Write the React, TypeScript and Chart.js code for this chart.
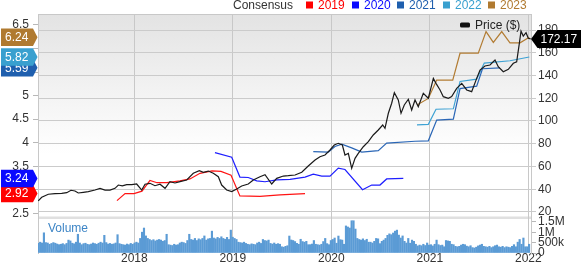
import { useEffect, useRef } from 'react';
import { Chart, registerables } from 'chart.js';

Chart.register(...registerables);

const FONT = '"Liberation Sans", Arial, sans-serif';

// ---- axes / ticks ----
const yearTicks = [2018, 2019, 2020, 2021, 2022];
const epsTicks = [2.5, 3, 3.5, 4, 4.5, 5, 5.5, 6, 6.5];
const hiddenEpsLabels = [3, 5.5, 6];
const priceTicks = [20, 40, 60, 80, 100, 120, 140, 160, 180];
const volumeTicks = [0, 500000, 1000000, 1500000];

// ---- price (decimal years / $) ----
const priceYears = [
  2017.025, 2017.06, 2017.127, 2017.195, 2017.263, 2017.314, 2017.357, 2017.398, 2017.431, 2017.482,
  2017.533, 2017.601, 2017.652, 2017.703, 2017.753, 2017.804, 2017.838, 2017.878, 2017.923, 2017.974,
  2018.024, 2018.075, 2018.109, 2018.159, 2018.21, 2018.261, 2018.312, 2018.362, 2018.413, 2018.464,
  2018.532, 2018.599, 2018.66, 2018.701, 2018.751, 2018.802, 2018.853, 2018.887, 2018.938, 2018.989,
  2019.04, 2019.09, 2019.157, 2019.208, 2019.276, 2019.327, 2019.395, 2019.446, 2019.513, 2019.563,
  2019.632, 2019.7, 2019.766, 2019.835, 2019.885, 2019.936, 2019.987, 2020.03, 2020.071, 2020.112,
  2020.139, 2020.173, 2020.207, 2020.241, 2020.274, 2020.325, 2020.376, 2020.426, 2020.477, 2020.522,
  2020.545, 2020.579, 2020.613, 2020.64, 2020.68, 2020.708, 2020.741, 2020.782, 2020.816, 2020.85,
  2020.883, 2020.934, 2020.985, 2021.036, 2021.063, 2021.104, 2021.137, 2021.188, 2021.222, 2021.273,
  2021.324, 2021.375, 2021.425, 2021.476, 2021.51, 2021.56, 2021.611, 2021.662, 2021.695, 2021.746,
  2021.797, 2021.848, 2021.882, 2021.909, 2021.926, 2021.949, 2021.977, 2022.0, 2022.024,
];
const priceValues = [
  29.7, 32.9, 35.6, 36.1, 36.4, 37.0, 39.1, 38.5, 36.7, 37.3,
  37.9, 39.3, 40.8, 39.3, 39.3, 40.8, 43.7, 42.9, 44.0, 44.0,
  44.6, 39.3, 44.4, 45.2, 43.1, 44.4, 40.8, 46.7, 45.5, 46.7,
  48.1, 54.0, 56.3, 54.9, 56.0, 54.0, 51.0, 43.7, 39.3, 37.9,
  40.2, 42.9, 44.6, 48.1, 51.0, 52.8, 44.6, 49.6, 51.6, 51.9,
  52.5, 54.9, 60.4, 65.7, 68.6, 70.1, 74.5, 78.9, 80.4, 78.9,
  70.1, 71.6, 58.4, 67.2, 71.6, 77.4, 81.8, 87.7, 92.1, 96.5,
  93.6, 106.8, 115.6, 124.9, 118.5, 106.8, 114.1, 119.1, 109.7, 118.5,
  112.6, 124.3, 120.0, 137.5, 133.1, 127.3, 121.4, 120.0, 121.4, 128.7,
  133.1, 127.3, 125.8, 137.5, 144.8, 148.4, 149.2, 153.6, 147.7, 143.3,
  145.4, 150.7, 152.1, 168.3, 179.0, 174.7, 177.6, 172.7, 172.17,
];
const lastPriceLabel = '172.17';

// ---- consensus EPS estimates (decimal years / EPS) ----
const eps2019Years = [2017.824, 2017.906, 2017.997, 2018.078, 2018.159, 2018.231, 2018.332, 2018.464, 2018.565, 2018.667, 2018.789, 2018.88, 2018.982, 2019.072, 2019.276, 2019.479, 2019.733];
const eps2019 = [2.77, 2.92, 2.92, 2.97, 3.2, 3.15, 3.15, 3.19, 3.23, 3.35, 3.4, 3.39, 3.31, 2.87, 2.86, 2.89, 2.92];

const eps2020Years = [2018.819, 2018.989, 2019.072, 2019.157, 2019.243, 2019.327, 2019.446, 2019.581, 2019.733, 2019.817, 2019.903, 2019.987, 2020.071, 2020.139, 2020.317, 2020.41, 2020.494, 2020.562, 2020.731];
const eps2020 = [3.79, 3.69, 3.27, 3.26, 3.19, 3.17, 3.21, 3.22, 3.27, 3.33, 3.29, 3.29, 3.46, 3.43, 3.0, 3.1, 3.1, 3.23, 3.24];

const eps2021Years = [2019.817, 2019.97, 2020.037, 2020.106, 2020.207, 2020.309, 2020.477, 2020.562, 2020.85, 2020.985, 2021.07, 2021.239, 2021.307, 2021.476, 2021.535, 2021.713];
const eps2021 = [3.81, 3.8, 3.92, 3.97, 3.89, 3.8, 3.83, 3.99, 4.03, 4.04, 4.48, 4.5, 5.15, 5.2, 5.57, 5.59];

const eps2022Years = [2020.87, 2020.985, 2021.063, 2021.239, 2021.307, 2021.476, 2021.553, 2021.814, 2022.01];
const eps2022 = [4.38, 4.39, 4.71, 4.72, 5.3, 5.35, 5.69, 5.74, 5.82];

const eps2023Years = [2020.87, 2020.985, 2021.07, 2021.233, 2021.307, 2021.492, 2021.571, 2021.645, 2021.73, 2021.814, 2021.916, 2022.01];
const eps2023 = [4.8, 4.94, 5.33, 5.33, 5.9, 5.9, 6.36, 6.13, 6.36, 6.12, 6.12, 6.24];

const consensusNames = ['2019', '2020', '2021', '2022', '2023'];
const consensusLabels = ['2.92', '3.24', '5.59', '5.82', '6.24'];
const consensusColors = ['#ff1414', '#1e1eff', '#2a66b6', '#3ea2d4', '#b27c33'];
const badgeColors = ['#ff0000', '#0a0aff', '#1f5fae', '#39a0cf', '#b07a30'];

// ---- weekly volume (thousands of shares), first week starts 2017.025 ----
const volumeStart = 2017.025;
const volumeThousands = [
  460, 520, 480, 970, 500, 480, 420, 460, 500, 470,
  430, 400, 420, 450, 400, 460, 620, 580, 470, 440,
  520, 900, 480, 400, 450, 470, 420, 400, 430, 480,
  450, 420, 470, 520, 480, 850, 500, 430, 460, 420,
  440, 480, 880, 450, 420, 400, 380, 430, 400, 460,
  420, 480, 520, 480, 700, 1000, 1200, 820, 700, 650,
  600, 640, 580, 620, 650, 620, 560, 600, 900, 400,
  380, 360, 420, 380, 400, 480, 520, 500, 460, 600,
  900, 650, 620, 700, 600, 680, 640, 700, 820, 620,
  680, 700, 1050, 720, 680, 750, 700, 780, 700, 660,
  750, 650, 1100, 760, 700, 650, 520, 500, 480, 520,
  460, 420, 400, 440, 420, 400, 480, 520, 460, 650,
  600, 580, 620, 460, 430, 480, 420, 450, 420, 300,
  280, 320, 350, 815, 625, 600, 550, 465, 420, 660,
  550, 520, 560, 400, 400, 430, 600, 420, 400, 380,
  420, 550, 700, 450, 400, 600, 650, 720, 470, 815,
  640, 620, 420, 1300, 1250, 1200, 1550, 1550, 1150, 700,
  650, 620, 680, 600, 660, 520, 520, 480, 560, 700,
  680, 450, 560, 620, 700, 850, 920, 880, 960, 1050,
  1100, 860, 720, 820, 560, 480, 700, 470, 620, 560,
  420, 340, 380, 350, 420, 360, 480, 380, 400, 340,
  420, 620, 400, 360, 380, 300, 600, 580, 560, 420,
  400, 320, 300, 320, 380, 420, 400, 330, 300, 350,
  260, 240, 280, 340, 380, 420, 320, 300, 280, 320,
  260, 300, 350, 380, 300, 280, 320, 260, 300, 280,
  260, 320, 400, 300, 520, 650, 420, 720, 300, 300,
  420,
];

// ---- axis ranges ----
const X_MIN = 2017.0223;
const X_MAX = 2022.0274;
const EPS_MIN = 1.657;
const EPS_MAX = 6.733;
const PRICE_MIN = 15.6;
const PRICE_MAX = 194.07;
const VOL_MAX = 1730000;

const epsSeries = [
  [eps2019Years, eps2019],
  [eps2020Years, eps2020],
  [eps2021Years, eps2021],
  [eps2022Years, eps2022],
  [eps2023Years, eps2023],
];

const fmtVol = (v: number) => {
  if (v === 0) return '0';
  if (v >= 1000000) return `${v / 1000000}M`;
  return `${v / 1000}k`;
};

const decorPlugin = {
  id: 'decor',
  beforeDraw(chart: any) {
    const { ctx, chartArea, scales } = chart;
    const pane = scales.yPrice;
    ctx.save();
    ctx.fillStyle = '#ffffff';
    ctx.fillRect(0, 0, chart.width, chart.height);
    const g = ctx.createLinearGradient(0, pane.top, 0, pane.top + 140);
    g.addColorStop(0, '#e3e3e3');
    g.addColorStop(1, '#ffffff');
    ctx.fillStyle = g;
    ctx.fillRect(chartArea.left, pane.top, chartArea.right - chartArea.left, pane.bottom - pane.top);
    ctx.fillStyle = '#e0e0e0';
    ctx.fillRect(chartArea.left, pane.bottom - 0.5, chartArea.right - chartArea.left, 2.5);
    ctx.restore();
  },
  afterDraw(chart: any) {
    const { ctx, chartArea, scales } = chart;
    ctx.save();
    // top border
    ctx.strokeStyle = '#c8c8c8';
    ctx.lineWidth = 1;
    ctx.beginPath();
    ctx.moveTo(chartArea.left, chartArea.top + 0.5);
    ctx.lineTo(chartArea.right, chartArea.top + 0.5);
    ctx.stroke();

    ctx.font = `12px ${FONT}`;
    ctx.textBaseline = 'middle';
    ctx.textAlign = 'left';

    // top legend
    ctx.fillStyle = '#333333';
    ctx.fillText('Consensus', 233, 5.5);
    const legendX = [306, 352, 397, 443, 488];
    consensusNames.forEach((name, i) => {
      ctx.fillStyle = badgeColors[i];
      ctx.fillRect(legendX[i], 1.5, 7, 7);
      ctx.fillText(name, legendX[i] + 12, 5.5);
    });

    // price legend
    ctx.fillStyle = '#111111';
    ctx.beginPath();
    ctx.roundRect(460, 22.5, 10, 5, 1.5);
    ctx.fill();
    ctx.fillStyle = '#222222';
    ctx.fillText('Price ($)', 475, 25.5);

    // volume label
    ctx.fillStyle = '#3d85c6';
    ctx.fillText('Volume', 48, 229);

    // left badges
    const yEps = scales.yEps;
    epsSeries.forEach(([, vals], i) => {
      const v = (vals as number[])[(vals as number[]).length - 1];
      const cy = yEps.getPixelForValue(v);
      const h = 8.8;
      ctx.fillStyle = badgeColors[i];
      ctx.beginPath();
      ctx.moveTo(1, cy - h);
      ctx.lineTo(33, cy - h);
      ctx.lineTo(37.5, cy);
      ctx.lineTo(33, cy + h);
      ctx.lineTo(1, cy + h);
      ctx.closePath();
      ctx.fill();
      ctx.fillStyle = '#ffffff';
      ctx.fillText(consensusLabels[i], 5, cy + 0.5);
    });

    // right price badge
    const yP = scales.yPrice;
    const py = yP.getPixelForValue(priceValues[priceValues.length - 1]);
    ctx.fillStyle = '#000000';
    ctx.beginPath();
    ctx.moveTo(531, py);
    ctx.lineTo(537.5, py - 9);
    ctx.lineTo(581, py - 9);
    ctx.lineTo(581, py + 9);
    ctx.lineTo(537.5, py + 9);
    ctx.closePath();
    ctx.fill();
    ctx.fillStyle = '#ffffff';
    ctx.fillText(lastPriceLabel, 540.5, py + 0.5);
    ctx.restore();
  },
};

export default function App() {
  const ref = useRef<HTMLCanvasElement>(null);

  useEffect(() => {
    const canvas = ref.current;
    if (!canvas) return;

    const tickFont = { family: FONT, size: 12 };

    const datasets: any[] = [
      {
        type: 'line',
        label: 'Price ($)',
        data: priceYears.map((x, i) => ({ x, y: priceValues[i] })),
        yAxisID: 'yPrice',
        xAxisID: 'x',
        borderColor: '#1a1a1a',
        borderWidth: 1.2,
        pointRadius: 0,
        tension: 0,
        order: 0,
      },
      ...epsSeries.map(([xs, vs], i) => ({
        type: 'line',
        label: consensusNames[i],
        data: (xs as number[]).map((x, j) => ({ x, y: (vs as number[])[j] })),
        yAxisID: 'yEps',
        xAxisID: 'x',
        borderColor: consensusColors[i],
        borderWidth: 1.2,
        pointRadius: 0,
        tension: 0,
        order: 1 + i,
      })),
      {
        type: 'bar',
        label: 'Volume',
        data: volumeThousands.map((v, i) => ({ x: volumeStart + (i * 7) / 365.25, y: v * 1000 })),
        yAxisID: 'yVol',
        xAxisID: 'x',
        backgroundColor: '#5b9bd5',
        borderWidth: 0,
        barThickness: 1.5,
        order: 10,
      },
    ];

    const chart = new Chart(canvas, {
      type: 'line',
      data: { datasets },
      plugins: [decorPlugin],
      options: {
        animation: false,
        responsive: false,
        maintainAspectRatio: false,
        events: [],
        layout: { padding: { top: 14, left: 0, right: 0, bottom: 0 } },
        plugins: { legend: { display: false }, tooltip: { enabled: false }, title: { display: false } },
        scales: {
          x: {
            type: 'linear',
            min: X_MIN,
            max: X_MAX,
            offset: false,
            afterBuildTicks: (s: any) => { s.ticks = yearTicks.map((v) => ({ value: v })); },
            afterFit: (s: any) => { s.height = 12; },
            grid: { color: '#c8c8c8', drawTicks: false, offset: false },
            border: { display: false },
            ticks: {
              font: { ...tickFont, lineHeight: 1 },
              color: '#333333',
              padding: 0,
              maxRotation: 0,
              autoSkip: false,
              callback: (v: any) => String(v),
            },
          },
          yEps: {
            type: 'linear',
            position: 'left',
            min: EPS_MIN,
            max: EPS_MAX,
            afterBuildTicks: (s: any) => { s.ticks = epsTicks.map((v) => ({ value: v })); },
            afterFit: (s: any) => { s.width = 38; },
            grid: { drawOnChartArea: false, tickLength: 5, color: '#b8b8b8' },
            border: { display: true, color: '#c8c8c8' },
            ticks: {
              font: tickFont,
              color: '#333333',
              padding: 4,
              autoSkip: false,
              callback: (v: any) => (hiddenEpsLabels.includes(Number(v)) ? '' : String(v)),
            },
          },
          yPrice: {
            type: 'linear',
            position: 'right',
            stack: 'right',
            stackWeight: 203,
            min: PRICE_MIN,
            max: PRICE_MAX,
            afterBuildTicks: (s: any) => { s.ticks = priceTicks.map((v) => ({ value: v })); },
            afterFit: (s: any) => { s.width = 50; },
            grid: { color: '#cbcbcb', tickLength: 5 },
            border: { display: true, color: '#c8c8c8' },
            ticks: { font: tickFont, color: '#333333', padding: 2, autoSkip: false, callback: (v: any) => String(v) },
          },
          yVol: {
            type: 'linear',
            position: 'right',
            stack: 'right',
            stackWeight: 36,
            min: 0,
            max: VOL_MAX,
            afterBuildTicks: (s: any) => { s.ticks = volumeTicks.map((v) => ({ value: v })); },
            afterFit: (s: any) => { s.width = 50; },
            grid: { drawOnChartArea: false, tickLength: 5, color: '#b8b8b8' },
            border: { display: true, color: '#c8c8c8' },
            ticks: { font: tickFont, color: '#333333', padding: 2, autoSkip: false, callback: (v: any) => fmtVol(Number(v)) },
          },
        },
      } as any,
    } as any);

    return () => chart.destroy();
  }, []);

  return (
    <div style={{ position: 'fixed', left: 0, top: 0, width: 581, height: 265, background: '#ffffff' }}>
      <canvas ref={ref} width={581} height={265} style={{ display: 'block', width: 581, height: 265 }} />
    </div>
  );
}
